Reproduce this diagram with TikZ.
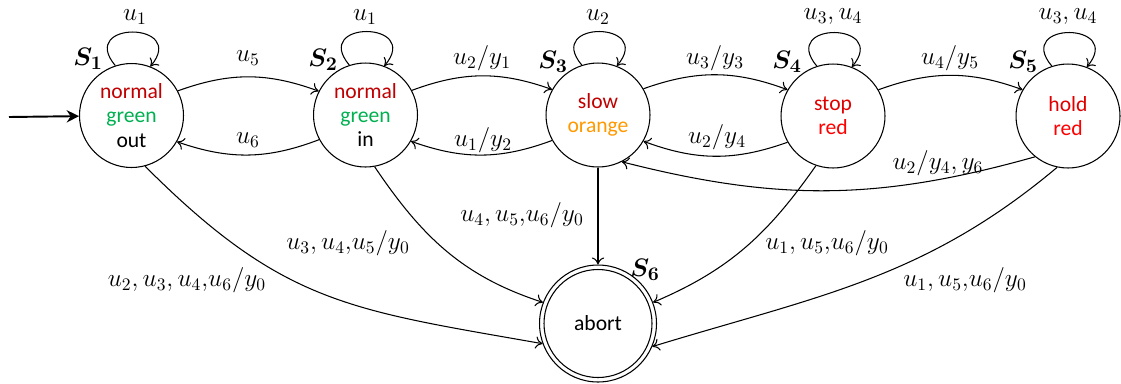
\documentclass[tikz,border=0pt]{standalone}
\usepackage{fontspec}
\usepackage{amsmath}
\newfontfamily\statefont{Carlito}
\usetikzlibrary{arrows.meta}
\definecolor{dred}{HTML}{C00000}
\definecolor{mred}{HTML}{E00000}
\definecolor{bred}{HTML}{FF0000}
\definecolor{sgreen}{HTML}{00B050}
\definecolor{sorange}{HTML}{FF9900}
\tikzset{
  state/.style={draw, circle, line width=0.6pt, minimum size=2.08cm, inner sep=0pt,
    align=center, font=\statefont\fontsize{12.3}{13.7}\selectfont},
  slabel/.style={font=\fontsize{15}{17}\selectfont\boldmath},
  elabel/.style={font=\fontsize{14}{16}\selectfont},
  trans/.style={draw, line width=0.6pt, -{To[length=4pt,width=7pt]}},
  loopedge/.style={trans, out=130, in=50, looseness=4.3},
}
\begin{document}
\begin{tikzpicture}[x=0.02cm,y=-0.02cm]
\useasboundingbox (0,0) rectangle (1121,383);
% states
\node[state] (S1) at (131.5,115.5) {\textcolor{dred}{normal}\\\textcolor{sgreen}{green}\\out};
\node[state] (S2) at (365.5,115) {\textcolor{dred}{normal}\\\textcolor{sgreen}{green}\\in};
\node[state] (S3) at (598,115) {\textcolor{dred}{slow}\\\textcolor{sorange}{orange}};
\node[state] (S4) at (833,116) {\textcolor{mred}{stop}\\\textcolor{bred}{red}};
\node[state] (S5) at (1068,116) {\textcolor{mred}{hold}\\\textcolor{bred}{red}};
\node[state, minimum size=2.34cm] (S6) at (598,323.5) {abort};
\draw[line width=0.6pt] (S6.center) circle (54);
% state names
\node[slabel] (n1) at (88,59) {$S_1$};
\node[slabel] (n2) at (323,60) {$S_2$};
\node[slabel] (n3) at (553,62) {$S_3$};
\node[slabel] (n4) at (787,62) {$S_4$};
\node[slabel] (n5) at (1023,62) {$S_5$};
\node[slabel] (n6) at (645,270) {$S_6$};
% initial
\coordinate (init) at (9,117);
\draw[line width=1.1pt, -{Stealth[length=7pt,width=7pt]}] (init) -- (S1);
% self loops
\draw[loopedge] (S1.108) to (S1.69);
\draw[loopedge] (S2.108) to (S2.69);
\draw[loopedge] (S3.108) to (S3.69);
\draw[loopedge] (S4.108) to (S4.69);
\draw[loopedge] (S5.108) to (S5.69);
\node[elabel] (l11) at (135,17) {$u_1$};
\node[elabel] (l22) at (365,17) {$u_1$};
\node[elabel] (l33) at (598,17) {$u_2$};
\node[elabel] (l44) at (833,17) {$u_3,u_4$};
\node[elabel] (l55) at (1068,17) {$u_3,u_4$};
% horizontal transitions
\draw[trans] (S1.28) to[bend left=20] (S2.153);
\draw[trans] (S2.208) to[bend left=20] (S1.330);
\draw[trans] (S2.28) to[bend left=20] (S3.151);
\draw[trans] (S3.209) to[bend left=20] (S2.330);
\draw[trans] (S3.30) to[bend left=20] (S4.150);
\draw[trans] (S4.210) to[bend left=20] (S3.330);
\draw[trans] (S4.30) to[bend left=20] (S5.150);
\draw[trans] (S5.231) to[bend left=15] (S3.297);
\node[elabel] (l12) at (248,58) {$u_5$};
\node[elabel] (l21) at (248,140) {$u_6$};
\node[elabel] (l23) at (482,58) {$u_2/y_1$};
\node[elabel] (l32) at (483,140) {$u_1/y_2$};
\node[elabel] (l34) at (715,58) {$u_3/y_3$};
\node[elabel] (l43) at (717,137) {$u_2/y_4$};
\node[elabel] (l45) at (950,58) {$u_4/y_5$};
\node[elabel] (l53) at (938,163) {$u_2/y_4,y_6$};
% to abort
\draw[trans] (S1.285) to[out=-45, in=170, looseness=1.15] (S6.200);
\draw[trans] (S2.280) to[out=-56, in=162] (S6.159);
\draw[trans] (S3) -- (S6);
\draw[trans] (S4.251) to[out=235, in=23] (S6.21);
\draw[trans] (S5.258) to[out=220, in=17] (S6.337);
\node[elabel] (l16) at (187,280) {$u_2,u_3,u_4{,}u_6/y_0$};
\node[elabel] (l26) at (348,243) {$u_3,u_4{,}u_5/y_0$};
\node[elabel] (l36) at (522,215) {$u_4,u_5{,}u_6/y_0$};
\node[elabel] (l46) at (827,243) {$u_1,u_5{,}u_6/y_0$};
\node[elabel] (l56) at (965,280) {$u_1,u_5{,}u_6/y_0$};
\end{tikzpicture}
\end{document}
